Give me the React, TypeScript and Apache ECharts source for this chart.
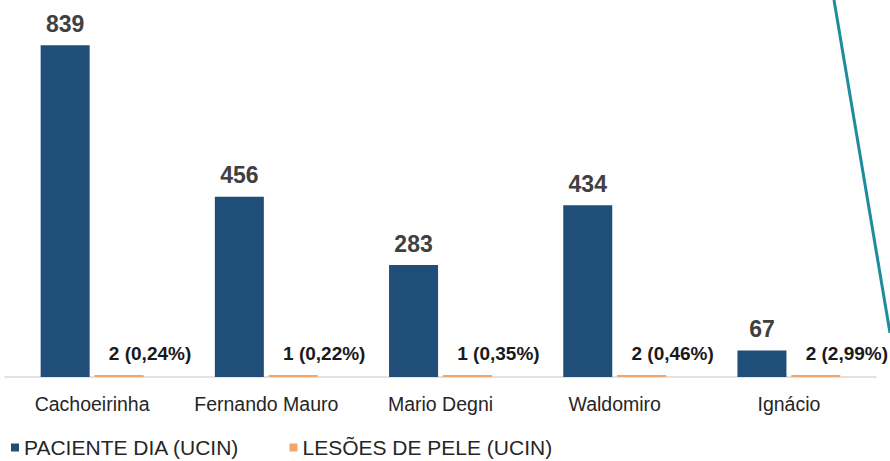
import React, { useEffect, useRef } from "react";
import * as echarts from "echarts";

const categories = ["Cachoeirinha", "Fernando Mauro", "Mario Degni", "Waldomiro", "Ignácio"];
const pacienteDia = [839, 456, 283, 434, 67];
const lesoes = [2, 1, 1, 2, 2];
const lesoesPct = ["0,24%", "0,22%", "0,35%", "0,46%", "2,99%"];
const seriesNames = ["PACIENTE DIA (UCIN)", "LESÕES DE PELE (UCIN)"];

export default function App() {
  const ref = useRef<HTMLDivElement>(null);
  useEffect(() => {
    if (!ref.current) return;
    const chart = echarts.init(ref.current, null, { renderer: "svg" });
    const font = "'Liberation Sans', Arial, sans-serif";
    chart.setOption({
      animation: false,
      backgroundColor: "#ffffff",
      textStyle: { fontFamily: font },
      grid: { left: 5, right: 14, top: 21, bottom: 84, containLabel: false },
      legend: {
        left: 11,
        top: 437,
        padding: 0,
        itemWidth: 8,
        itemHeight: 8,
        itemGap: 50,
        icon: "rect",
        textStyle: { fontSize: 21, color: "#262626", fontFamily: font },
        data: seriesNames,
      },
      xAxis: {
        type: "category",
        data: categories,
        axisLine: { show: true, lineStyle: { color: "#D9D9D9", width: 1.5 } },
        axisTick: { show: false },
        axisLabel: { interval: 0, fontSize: 19.5, color: "#262626", margin: 17, fontFamily: font },
      },
      yAxis: {
        type: "value",
        min: 0,
        max: 900,
        show: false,
        splitLine: { show: false },
      },
      series: [
        {
          name: seriesNames[0],
          type: "bar",
          data: pacienteDia,
          barWidth: 49,
          barGap: "10%",
          itemStyle: { color: "#1F4E79" },
          label: {
            show: true,
            position: "top",
            distance: 10,
            fontSize: 23,
            fontWeight: "bold",
            color: "#404040",
            fontFamily: font,
          },
        },
        {
          name: seriesNames[1],
          type: "bar",
          data: lesoes,
          barWidth: 49,
          barGap: "10%",
          barMinHeight: 2,
          itemStyle: { color: "#F4A56B" },
          label: {
            show: true,
            position: "top",
            distance: 0,
            offset: [31, -12],
            fontSize: 19,
            fontWeight: "bold",
            color: "#1a1a1a",
            fontFamily: font,
            formatter: (p: any) => `${p.value} (${lesoesPct[p.dataIndex]})`,
          },
        },
      ],
      graphic: [
        {
          type: "line",
          shape: { x1: 834, y1: 0, x2: 890, y2: 333 },
          style: { stroke: "#1E8C9C", lineWidth: 3 },
          z: 100,
        },
      ],
    });
    return () => chart.dispose();
  }, []);
  return (
    <div
      ref={ref}
      style={{ position: "fixed", left: 0, top: 0, width: 890, height: 461 }}
    />
  );
}
